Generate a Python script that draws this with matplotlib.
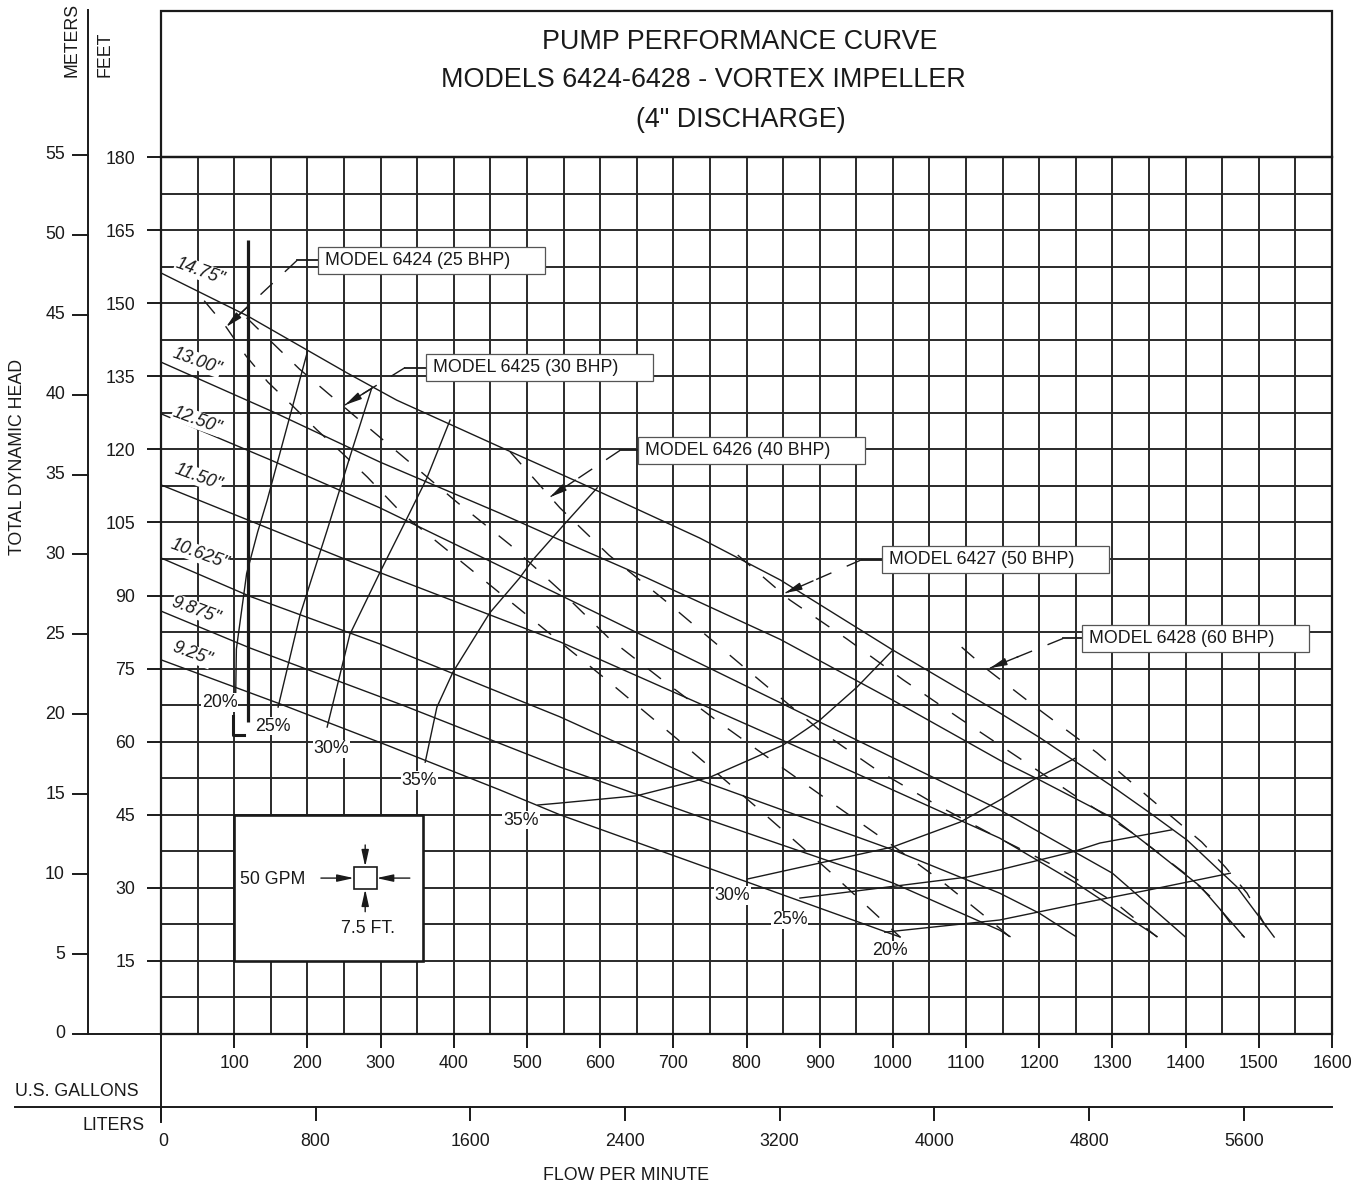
import numpy as np
import matplotlib
matplotlib.use('Agg')
import matplotlib.pyplot as plt
from matplotlib import font_manager
from matplotlib.patches import Rectangle
from matplotlib.transforms import blended_transform_factory

# the chart uses a condensed sans; fall back to regular width if narrow is missing
installed = {f.name for f in font_manager.fontManager.ttflist}
if 'Liberation Sans Narrow' in installed:
    FAMILY, K = ['Liberation Sans Narrow', 'DejaVu Sans'], 1.0
else:
    FAMILY, K = ['Liberation Sans', 'DejaVu Sans'], 0.88
plt.rcParams['font.family'] = FAMILY
plt.rcParams['lines.scale_dashes'] = False

W, H = 1357, 1184
INK = '#1a1a1a'
GRID = '#2a2a2a'
FS = 14.5 * K

# ---- impeller curves: flow (US gpm) vs total dynamic head (ft) ----
c1475_gpm = [0, 118, 254, 322, 463, 573, 736, 846, 1000, 1146, 1201, 1301, 1351, 1402, 1470, 1521]
c1475_ft = [156.2, 147.4, 135.7, 130.1, 120.5, 113.1, 101.8, 93.2, 78.8, 65.9, 60.8, 50.7, 45.4, 39.8, 30.2, 19.9]
c1300_gpm = [0, 153, 299, 463, 545, 664, 846, 1000, 1146, 1201, 1301, 1351, 1420, 1480]
c1300_ft = [137.9, 127.7, 117.4, 106.9, 101.4, 93.6, 81.0, 68.5, 56.2, 52.1, 44.3, 38.5, 30.3, 19.9]
c1250_gpm = [0, 150, 299, 545, 846, 1146, 1300, 1399]
c1250_ft = [127.3, 117.8, 108.0, 90.1, 68.0, 46.0, 33.0, 20.0]
c1150_gpm = [0, 254, 545, 846, 1146, 1250, 1361]
c1150_ft = [112.7, 97.3, 80.5, 60.5, 40.2, 31.0, 20.0]
c10625_gpm = [0, 122, 300, 545, 736, 1000, 1146, 1200, 1250]
c10625_ft = [97.7, 89.8, 80.0, 65.1, 52.1, 37.8, 28.9, 24.8, 20.0]
c9875_gpm = [0, 122, 330, 545, 736, 1000, 1146, 1160]
c9875_ft = [86.8, 79.2, 67.5, 54.8, 44.6, 31.0, 21.3, 20.0]
c925_gpm = [0, 160, 310, 463, 545, 736, 1010]
c925_ft = [76.8, 67.9, 59.2, 50.1, 45.0, 34.7, 19.9]

imp_names = ['14.75"', '13.00"', '12.50"', '11.50"', '10.625"', '9.875"', '9.25"']
imp_label_gpm = [53, 49, 49, 51, 52, 48, 42]
imp_label_ft = [156.6, 138.1, 126.0, 114.3, 98.5, 87.0, 78.0]

# ---- model horsepower limit lines (dashed) ----
m6424_gpm = [59, 89, 116, 146, 180, 213, 247, 282, 329, 463, 604, 712, 818, 914, 1010]
m6424_ft = [150.5, 145.1, 139.2, 133.8, 128.9, 124.0, 119.3, 114.3, 106.9, 90.5, 73.3, 59.7, 46.0, 33.3, 19.9]
m6425_gpm = [117, 189, 261, 333, 404, 477, 545, 613, 689, 764, 840, 917, 993, 1068, 1142, 1160]
m6425_ft = [147.0, 136.5, 127.3, 118.2, 109.2, 100.4, 91.1, 81.1, 72.2, 63.8, 55.6, 47.4, 39.4, 31.2, 22.2, 19.9]
m6426_gpm = [477, 545, 612, 686, 757, 829, 903, 978, 1060, 1142, 1226, 1306, 1361]
m6426_ft = [119.5, 108.0, 98.3, 89.3, 80.3, 71.2, 62.0, 54.2, 47.0, 40.4, 34.1, 26.7, 19.9]
m6427_gpm = [788, 859, 937, 1014, 1092, 1170, 1247, 1327, 1402, 1436, 1465, 1480]
m6427_ft = [98.3, 89.1, 81.1, 72.7, 64.7, 56.9, 49.1, 41.3, 32.6, 27.9, 22.0, 19.9]
m6428_gpm = [1094, 1130, 1204, 1279, 1351, 1422, 1454, 1484, 1506, 1519]
m6428_ft = [79.4, 74.7, 66.1, 57.7, 48.4, 39.4, 34.3, 28.9, 23.0, 19.9]

model_names = ['MODEL 6424 (25 BHP)', 'MODEL 6425 (30 BHP)', 'MODEL 6426 (40 BHP)',
               'MODEL 6427 (50 BHP)', 'MODEL 6428 (60 BHP)']
model_box_gpm = [214.5, 361.8, 651.7, 985.1, 1258.4]
model_box_ft = [156.0, 134.0, 117.0, 94.6, 78.4]
model_elbow_gpm = [185.8, 333.4, 627.1, 957.8, 1232.4]
model_tip_gpm = [88.8, 251.4, 531.5, 852.6, 1132.7]
model_tip_ft = [145.1, 129.1, 110.2, 90.5, 75.1]

# ---- efficiency curves ----
e20L_gpm = [102, 103, 117, 132, 145, 172, 200]
e20L_ft = [69.0, 79.0, 94.5, 103.0, 109.5, 124.5, 140.0]
e25L_gpm = [160, 190, 214, 227, 258, 288]
e25L_ft = [67.1, 86.0, 97.3, 103.4, 118.4, 132.6]
e30L_gpm = [227, 258, 300, 330, 363, 395]
e30L_ft = [63.0, 82.0, 95.0, 104.0, 114.0, 126.0]
e35L_gpm = [361, 377, 399, 449, 490, 508, 548, 596]
e35L_ft = [55.8, 67.1, 74.3, 86.4, 93.6, 97.3, 104.1, 112.1]
e35R_gpm = [515, 545, 650, 750, 850, 900, 951, 1000]
e35R_ft = [47.0, 47.4, 48.9, 52.7, 59.3, 64.4, 71.2, 78.8]
e30R_gpm = [801, 1000, 1092, 1146, 1191, 1249]
e30R_ft = [31.8, 38.4, 43.5, 48.0, 52.1, 56.6]
e25R_gpm = [873, 1101, 1146, 1246, 1283, 1381]
e25R_ft = [27.9, 32.2, 33.7, 37.4, 39.2, 41.9]
e20R_gpm = [989, 1146, 1246, 1351, 1461]
e20R_ft = [20.9, 23.4, 26.5, 29.6, 33.0]

eff_names = ['20%', '25%', '30%', '35%', '35%', '30%', '25%', '20%']
eff_label_gpm = [80, 153, 233, 353, 492, 781, 859, 996]
eff_label_ft = [68.0, 63.2, 58.5, 52.1, 43.9, 28.5, 23.4, 17.2]

# ---- axes ticks ----
gal_ticks = [100, 200, 300, 400, 500, 600, 700, 800, 900, 1000, 1100, 1200, 1300, 1400, 1500, 1600]
ft_ticks = [15, 30, 45, 60, 75, 90, 105, 120, 135, 150, 165, 180]
meter_ticks = [0, 5, 10, 15, 20, 25, 30, 35, 40, 45, 50, 55]
liter_ticks = [0, 800, 1600, 2400, 3200, 4000, 4800, 5600]
FT_PER_M = 3.2808
L_PER_GAL = 3.78541

fig = plt.figure(figsize=(W / 100, H / 100), dpi=100)
ax = fig.add_axes([161 / W, 1 - 1034 / H, 1171 / W, 877 / H])
ax.set_xlim(0, 1600)
ax.set_ylim(0, 180)

ax.set_xticks(gal_ticks)
ax.set_xticks(np.arange(0, 1601, 50), minor=True)
ax.set_yticks(ft_ticks)
ax.set_yticks(np.arange(0, 181, 7.5), minor=True)
ax.tick_params(which='major', direction='out', length=10, width=1.4, color=INK,
               labelsize=FS, labelcolor=INK)
ax.tick_params(axis='x', pad=5)
ax.tick_params(axis='y', pad=8.5)
ax.tick_params(which='minor', length=0)
ax.grid(True, which='both', color=GRID, lw=1.4)
for s in ax.spines.values():
    s.set_linewidth(1.6)
    s.set_color(INK)

# title box above the grid
ax.add_patch(Rectangle((0, 1), 1, (1034 - 11) / 877 - 1, transform=ax.transAxes,
                       fill=False, lw=1.6, ec=INK, clip_on=False))

# meters scale on the left
ty = blended_transform_factory(ax.transAxes, ax.transData)
mx = (88 - 161) / 1171
ax.plot([mx, mx], [0, (1034 - 10) * 180 / 877], transform=ty, color=INK, lw=1.4, clip_on=False)
ax.plot([mx, 0], [0, 0], transform=ty, color=INK, lw=1.4, clip_on=False)
for m in meter_ticks:
    y = m * FT_PER_M
    ax.plot([mx - 15 / 1171, mx], [y, y], transform=ty, color=INK, lw=1.4, clip_on=False)
    ax.text(mx - 23 / 1171, y, str(m), transform=ty, ha='right', va='center',
            fontsize=FS, color=INK)

# liters scale at the bottom
tx = blended_transform_factory(ax.transData, ax.transAxes)
ly = (1034 - 1107) / 877
ax.plot([-146 / 1171, 1], [ly, ly], transform=ax.transAxes, color=INK, lw=1.4, clip_on=False)
ax.plot([0, 0], [0, (1034 - 1122) / 877], transform=ax.transAxes, color=INK, lw=1.4, clip_on=False)
for lt in liter_ticks:
    g = lt / L_PER_GAL
    ax.plot([g, g], [ly, ly - 13 / 877], transform=tx, color=INK, lw=1.4, clip_on=False)
    ax.text(g + (3 if lt == 0 else 0), (1034 - 1141) / 877, str(lt), transform=tx,
            ha='center', va='center', fontsize=FS, color=INK)

# ---- curves ----
imp_curves = [(c1475_gpm, c1475_ft), (c1300_gpm, c1300_ft), (c1250_gpm, c1250_ft),
              (c1150_gpm, c1150_ft), (c10625_gpm, c10625_ft), (c9875_gpm, c9875_ft),
              (c925_gpm, c925_ft)]
for g, f in imp_curves:
    ax.plot(g, f, color=INK, lw=1.0, zorder=3)

eff_curves = [(e20L_gpm, e20L_ft), (e25L_gpm, e25L_ft), (e30L_gpm, e30L_ft), (e35L_gpm, e35L_ft),
              (e35R_gpm, e35R_ft), (e30R_gpm, e30R_ft), (e25R_gpm, e25R_ft), (e20R_gpm, e20R_ft)]
for g, f in eff_curves:
    ax.plot(g, f, color=INK, lw=1.0, zorder=3)

hp_curves = [(m6424_gpm, m6424_ft), (m6425_gpm, m6425_ft), (m6426_gpm, m6426_ft),
             (m6427_gpm, m6427_ft), (m6428_gpm, m6428_ft)]
for g, f in hp_curves:
    ax.plot(g, f, color=INK, lw=1.0, ls=(0, (12, 12)), zorder=3)

# heavy vertical marker and "L"
ax.plot([119, 119], [64, 163], color=INK, lw=2.3, zorder=3, solid_capstyle='butt')
ax.plot([99, 99, 114], [65.3, 61.4, 61.4], color=INK, lw=2.2, zorder=3)

# impeller labels
for name, g, f in zip(imp_names, imp_label_gpm, imp_label_ft):
    ax.text(g, f, name, fontsize=FS, style='italic', rotation=-20, rotation_mode='anchor',
            ha='center', va='center', color=INK, zorder=4,
            bbox=dict(fc='white', ec='none', pad=0.3))

# efficiency labels
for name, g, f in zip(eff_names, eff_label_gpm, eff_label_ft):
    ax.text(g, f, name, fontsize=FS, ha='center', va='center', color=INK, zorder=4,
            bbox=dict(fc='white', ec='none', pad=0.6))

# model labels with leaders
box_w = 310
box_h = 5.55
for name, bg, bf, eg, tg, tf in zip(model_names, model_box_gpm, model_box_ft,
                                    model_elbow_gpm, model_tip_gpm, model_tip_ft):
    ax.add_patch(Rectangle((bg, bf), box_w, box_h, fc='white', ec='#555555', lw=0.9, zorder=5))
    yc = bf + box_h / 2
    ax.text(bg + 9.5, yc, name, fontsize=FS, ha='left', va='center', color=INK, zorder=6)
    ax.plot([bg, eg], [yc, yc], color=INK, lw=1.3, zorder=4)
    ax.plot([eg, tg], [yc, tf], color=INK, lw=1.0, ls=(0, (12, 12)), zorder=4)
    p_tip = ax.transData.transform((tg, tf))
    p_el = ax.transData.transform((eg, yc))
    d = p_el - p_tip
    d = d / np.hypot(*d) * 22
    ax.annotate('', xy=(tg, tf), xytext=(d[0], d[1]), textcoords='offset points',
                arrowprops=dict(arrowstyle='-|>,head_length=1.0,head_width=0.22',
                                mutation_scale=10, color=INK, lw=1.0, shrinkA=0, shrinkB=0),
                zorder=4)

# scale legend box
ax.add_patch(Rectangle((100, 15), 258, 30, fc='white', ec=INK, lw=1.9, zorder=5))
ax.text(153, 31.8, '50 GPM', fontsize=FS, ha='center', va='center', color=INK, zorder=6)
ax.add_patch(Rectangle((263.5, 29.7), 31, 4.65, fc='white', ec=INK, lw=1.2, zorder=6))
arrow_kw = dict(arrowstyle='-|>,head_length=1.0,head_width=0.22', mutation_scale=10,
                color=INK, lw=1.0, shrinkA=0, shrinkB=0)
ax.annotate('', xy=(263.5, 32.0), xytext=(218.5, 32.0), arrowprops=arrow_kw, zorder=6)
ax.annotate('', xy=(294.5, 32.0), xytext=(340, 32.0), arrowprops=arrow_kw, zorder=6)
ax.annotate('', xy=(279, 34.35), xytext=(279, 38.8), arrowprops=arrow_kw, zorder=6)
ax.annotate('', xy=(279, 29.7), xytext=(279, 25.1), arrowprops=arrow_kw, zorder=6)
ax.text(283, 21.6, '7.5 FT.', fontsize=FS, ha='center', va='center', color=INK, zorder=6)


# ---- texts placed in figure pixels ----
def ptxt(x, y, s, **kw):
    fig.text(x / W, 1 - y / H, s, color=INK, **kw)


TS = 22 * K
LS = 14.5 * K
ptxt(740, 42, 'PUMP PERFORMANCE CURVE', fontsize=TS, ha='center', va='center')
ptxt(703, 80, 'MODELS 6424-6428 - VORTEX IMPELLER', fontsize=TS, ha='center', va='center')
ptxt(741, 120, '(4" DISCHARGE)', fontsize=TS, ha='center', va='center')
ptxt(18, 457, 'TOTAL DYNAMIC HEAD', fontsize=LS, rotation=90, ha='center', va='center')
ptxt(71.5, 77, 'METERS', fontsize=LS, rotation=90, ha='center', va='bottom')
ptxt(105, 77, 'FEET', fontsize=LS, rotation=90, ha='center', va='bottom')
ptxt(15, 1092, 'U.S. GALLONS', fontsize=LS, ha='left', va='center')
ptxt(145, 1125, 'LITERS', fontsize=LS, ha='right', va='center')
ptxt(626, 1175, 'FLOW PER MINUTE', fontsize=LS, ha='center', va='center')

fig.savefig('out.png', dpi=100, facecolor='white')
